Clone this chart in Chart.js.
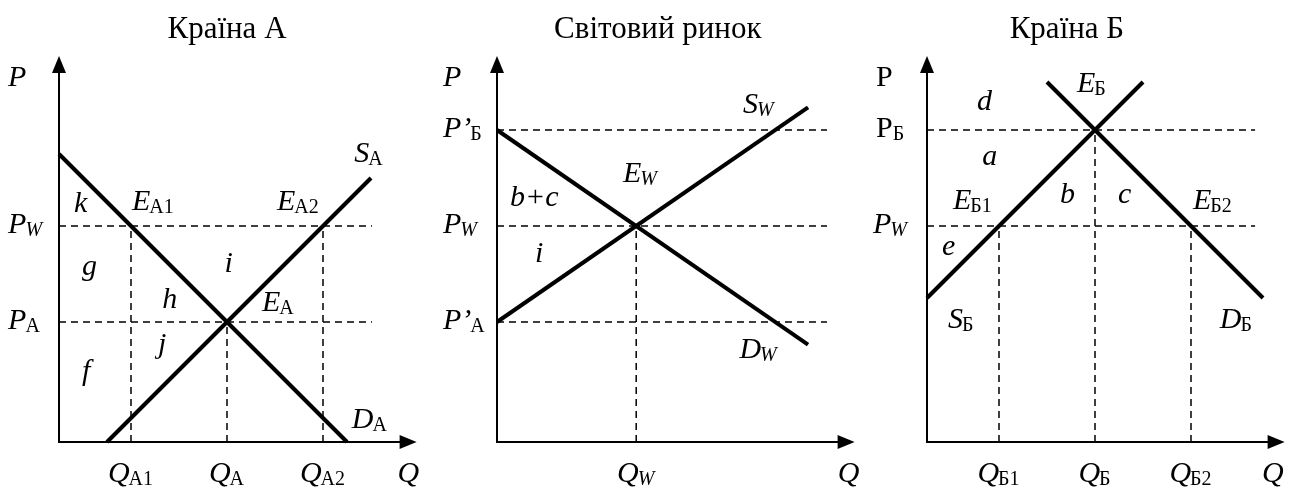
<!DOCTYPE html>
<html>
<head>
<meta charset="utf-8">
<script src="https://cdn.jsdelivr.net/npm/chart.js@4.4.1/dist/chart.umd.min.js"></script>
<style>
  body { margin: 0; background: #fff; }
  canvas { position: absolute; top: 0; }
</style>
</head>
<body>
<canvas id="cA" width="432" height="491" style="left:0px"></canvas>
<canvas id="cW" width="432" height="491" style="left:432px"></canvas>
<canvas id="cB" width="432" height="491" style="left:864px"></canvas>
<script>
// ---- Країна А ----
const qA = [3, 7, 11];          // Q_A1, Q_A, Q_A2
const qA_names = ['A1', 'A', 'A2'];
const qA_top = [9, 5, 9];       // where the dashed verticals stop
const pA = [9, 5];              // P_W, P_A
const pA_names = ['W', 'A'];
const demandA_x = [0, 12], demandA_y = [12, 0];
const supplyA_x = [2, 13], supplyA_y = [0, 11];

// ---- Світовий ринок ----
const qW = [5.8];
const qW_names = ['W'];
const qW_top = [9];
const pW = [13, 9, 5];          // P'_Б, P_W, P'_A
const pW_names = ['Б', 'W', 'A'];
const demandW_x = [0, 12.96], demandW_y = [13, 4.06];
const supplyW_x = [0, 12.96], supplyW_y = [5, 13.94];

// ---- Країна Б ----
const qB = [3, 7, 11];
const qB_names = ['Б1', 'Б', 'Б2'];
const qB_top = [9, 13, 9];
const pB = [13, 9];             // P_Б, P_W
const pB_names = ['Б', 'W'];
const supplyB_x = [0, 9], supplyB_y = [6, 15];
const demandB_x = [5, 14], demandB_y = [15, 6];

const FONT = '"Liberation Serif", "Times New Roman", serif';
const BIG = 30, SMALL = 20;

function pts(xs, ys) { return xs.map((x, i) => ({ x: x, y: ys[i] })); }

function curve(xs, ys) {
  return { data: pts(xs, ys), showLine: true, borderColor: '#000', borderWidth: 4,
           pointRadius: 0, clip: false };
}
function dashed(xs, ys) {
  return { data: pts(xs, ys), showLine: true, borderColor: '#000', borderWidth: 1.5,
           borderDash: [7, 5], pointRadius: 0, clip: false };
}

// label: m = main text, s = subscript, up = main upright
function drawLabel(ctx, px, py, l) {
  const mf = (l.up ? '' : 'italic ') + BIG + 'px ' + FONT;
  const subUp = l.s !== 'W';
  const sf = (subUp ? '' : 'italic ') + SMALL + 'px ' + FONT;
  ctx.font = mf;
  const mw = ctx.measureText(l.m).width;
  ctx.font = sf;
  const sw = l.s ? ctx.measureText(l.s).width : 0;
  let x0 = px;
  if (l.al === 'center') x0 = px - (mw + sw) / 2;
  ctx.textAlign = 'left';
  ctx.textBaseline = 'alphabetic';
  ctx.fillStyle = '#000';
  ctx.font = mf;
  ctx.fillText(l.m, x0, py);
  if (l.s) {
    ctx.font = sf;
    ctx.fillText(l.s, x0 + mw + (l.up ? 0 : -1), py + 3);
  }
}

const decor = {
  id: 'decor',
  afterDatasetsDraw(chart) {
    const ctx = chart.ctx, xs = chart.scales.x, ys = chart.scales.y;
    const cfg = chart.options.plugins.decor;
    const X = v => xs.getPixelForValue(v), Y = v => ys.getPixelForValue(v);
    ctx.save();
    // axes with arrows
    ctx.strokeStyle = '#000'; ctx.lineWidth = 2;
    ctx.beginPath();
    ctx.moveTo(X(0), Y(0)); ctx.lineTo(X(0), Y(cfg.yTip) + 14);
    ctx.moveTo(X(0) - 1, Y(0)); ctx.lineTo(X(cfg.xTip) - 14, Y(0));
    ctx.stroke();
    ctx.fillStyle = '#000';
    ctx.beginPath();
    ctx.moveTo(X(0), Y(cfg.yTip)); ctx.lineTo(X(0) - 7, Y(cfg.yTip) + 17); ctx.lineTo(X(0) + 7, Y(cfg.yTip) + 17);
    ctx.closePath(); ctx.fill();
    ctx.beginPath();
    ctx.moveTo(X(cfg.xTip), Y(0)); ctx.lineTo(X(cfg.xTip) - 17, Y(0) - 7); ctx.lineTo(X(cfg.xTip) - 17, Y(0) + 7);
    ctx.closePath(); ctx.fill();
    // title
    ctx.font = (BIG + 1) + 'px ' + FONT;
    ctx.textAlign = 'center'; ctx.textBaseline = 'alphabetic';
    ctx.fillText(cfg.title, X(cfg.titleX), Y(16.83));
    // tick labels
    cfg.pTicks.forEach((p, i) => drawLabel(ctx, X(cfg.pLabelX[i]), Y(p) + 7, cfg.pLabels[i]));
    cfg.qTicks.forEach((q, i) => drawLabel(ctx, X(q), Y(-1.67), { m: 'Q', s: cfg.qNames[i], al: 'center' }));
    drawLabel(ctx, X(cfg.qAxisX), Y(-1.67), { m: 'Q' });
    drawLabel(ctx, X(cfg.pAxisX), Y(14.83), { m: 'P', up: cfg.pUpright });
    cfg.labels.forEach(l => drawLabel(ctx, X(l.x), Y(l.y), l));
    ctx.restore();
  }
};

function makePanel(id, padLeft, datasets, decorCfg) {
  new Chart(document.getElementById(id), {
    type: 'scatter',
    data: { datasets: datasets },
    options: {
      responsive: false, animation: false, devicePixelRatio: 1,
      layout: { padding: { left: padLeft, right: 432 - padLeft - 360, top: 58, bottom: 49 } },
      scales: {
        x: { type: 'linear', min: 0, max: 15, display: false },
        y: { type: 'linear', min: 0, max: 16, display: false }
      },
      plugins: { legend: { display: false }, tooltip: { enabled: false }, decor: decorCfg }
    },
    plugins: [decor]
  });
}

function guides(qs, tops, ps, hEnd) {
  const out = [];
  ps.forEach(p => out.push(dashed([0, hEnd], [p, p])));
  qs.forEach((q, i) => out.push(dashed([q, q], [0, tops[i]])));
  return out;
}

makePanel('cA', 59,
  guides(qA, qA_top, pA, 13.04).concat([curve(demandA_x, demandA_y), curve(supplyA_x, supplyA_y)]),
  {
    title: 'Країна А', titleX: 7, xTip: 14.9, yTip: 16.08,
    pTicks: pA, pLabelX: [-2.12, -2.12],
    pLabels: pA_names.map(n => ({ m: 'P', s: n })),
    qTicks: qA, qNames: qA_names, qAxisX: 14.1, pAxisX: -2.12,
    labels: [
      { m: 'S', s: 'A', x: 12.3, y: 11.67 },
      { m: 'D', s: 'A', x: 12.2, y: 0.58 },
      { m: 'E', s: 'A1', x: 3.04, y: 9.67 },
      { m: 'E', s: 'A2', x: 9.08, y: 9.67 },
      { m: 'E', s: 'A', x: 8.46, y: 5.46 },
      { m: 'k', x: 0.63, y: 9.58 },
      { m: 'g', x: 0.96, y: 6.96 },
      { m: 'h', x: 4.3, y: 5.58 },
      { m: 'i', x: 6.9, y: 7.1 },
      { m: 'j', x: 4.13, y: 3.7 },
      { m: 'f', x: 0.96, y: 2.58 }
    ]
  });

makePanel('cW', 65,
  guides(qW, qW_top, pW, 13.75).concat([curve(demandW_x, demandW_y), curve(supplyW_x, supplyW_y)]),
  {
    title: 'Світовий ринок', titleX: 6.7, xTip: 14.9, yTip: 16.08,
    pTicks: pW, pLabelX: [-2.25, -2.25, -2.25],
    pLabels: [{ m: 'P’', s: pW_names[0] }, { m: 'P', s: pW_names[1] }, { m: 'P’', s: pW_names[2] }],
    qTicks: qW, qNames: qW_names, qAxisX: 14.2, pAxisX: -2.25,
    labels: [
      { m: 'S', s: 'W', x: 10.25, y: 13.7 },
      { m: 'D', s: 'W', x: 10.1, y: 3.5 },
      { m: 'E', s: 'W', x: 5.25, y: 10.83 },
      { m: 'b+c', x: 0.54, y: 9.83 },
      { m: 'i', x: 1.58, y: 7.5 }
    ]
  });

makePanel('cB', 63,
  guides(qB, qB_top, pB, 13.67).concat([curve(supplyB_x, supplyB_y), curve(demandB_x, demandB_y)]),
  {
    title: 'Країна Б', titleX: 5.83, xTip: 14.9, yTip: 16.08,
    pTicks: pB, pLabelX: [-2.12, -2.25],
    pLabels: [{ m: 'P', s: pB_names[0], up: true }, { m: 'P', s: pB_names[1] }],
    qTicks: qB, qNames: qB_names, qAxisX: 13.96, pAxisX: -2.12, pUpright: true,
    labels: [
      { m: 'E', s: 'Б', x: 6.25, y: 14.6 },
      { m: 'd', x: 2.08, y: 13.83 },
      { m: 'a', x: 2.3, y: 11.54 },
      { m: 'E', s: 'Б1', x: 1.08, y: 9.7 },
      { m: 'b', x: 5.54, y: 9.96 },
      { m: 'c', x: 7.96, y: 9.96 },
      { m: 'E', s: 'Б2', x: 11.08, y: 9.7 },
      { m: 'e', x: 0.63, y: 7.8 },
      { m: 'S', s: 'Б', x: 0.88, y: 4.75 },
      { m: 'D', s: 'Б', x: 12.2, y: 4.75 }
    ]
  });
</script>
</body>
</html>
